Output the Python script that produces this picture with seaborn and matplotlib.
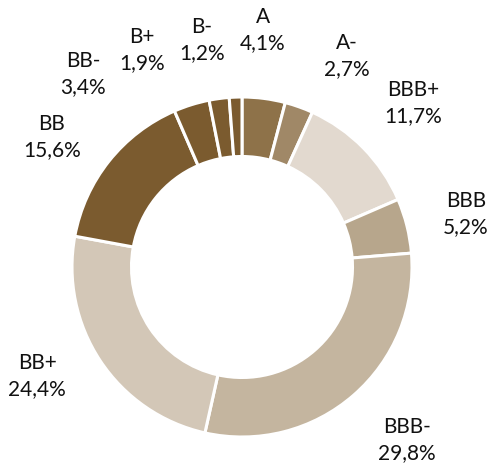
import matplotlib
matplotlib.use("Agg")
import matplotlib.pyplot as plt
import seaborn as sns

# ---- data ----
categories = ["A", "A-", "BBB+", "BBB", "BBB-", "BB+", "BB", "BB-", "B+", "B-"]
shares = [4.1, 2.7, 11.7, 5.2, 29.8, 24.4, 15.6, 3.4, 1.9, 1.2]
colors = ["#8E7249", "#A08867", "#E2D9CF", "#B7A68C", "#C4B59F",
          "#D3C7B7", "#7B5B2F", "#7B5B2F", "#7B5B2F", "#7B5B2F"]

# ---- layout (label block centres in pixels) ----
label_px = [(263, 30), (347, 56), (413, 103), (466, 214), (407, 440),
            (37, 376), (52, 137), (83, 74), (142, 50), (202, 40)]

W, H = 493, 468
cx, cy, R = 242, 267, 170

sns.set_theme(style="white")
plt.rcParams["font.family"] = ["Lato", "DejaVu Sans"]

fig = plt.figure(figsize=(W / 100, H / 100), dpi=100)
ax = fig.add_axes([0, 0, 1, 1])
ax.pie(shares, colors=colors, startangle=90, counterclock=False, radius=1,
       wedgeprops=dict(width=0.35, edgecolor="white", linewidth=2.2))
ax.set_xlim(-cx / R, (W - cx) / R)
ax.set_ylim(-(H - cy) / R, cy / R)
ax.set_aspect("equal")
ax.axis("off")

for cat, val, (px, py) in zip(categories, shares, label_px):
    txt = f"{cat}\n{val:.1f}%".replace(".", ",")
    fig.text(px / W, 1 - py / H, txt, ha="center", va="center",
             fontsize=15, color="#111111", linespacing=1.35)

fig.savefig("out.png", dpi=100, facecolor="white")
